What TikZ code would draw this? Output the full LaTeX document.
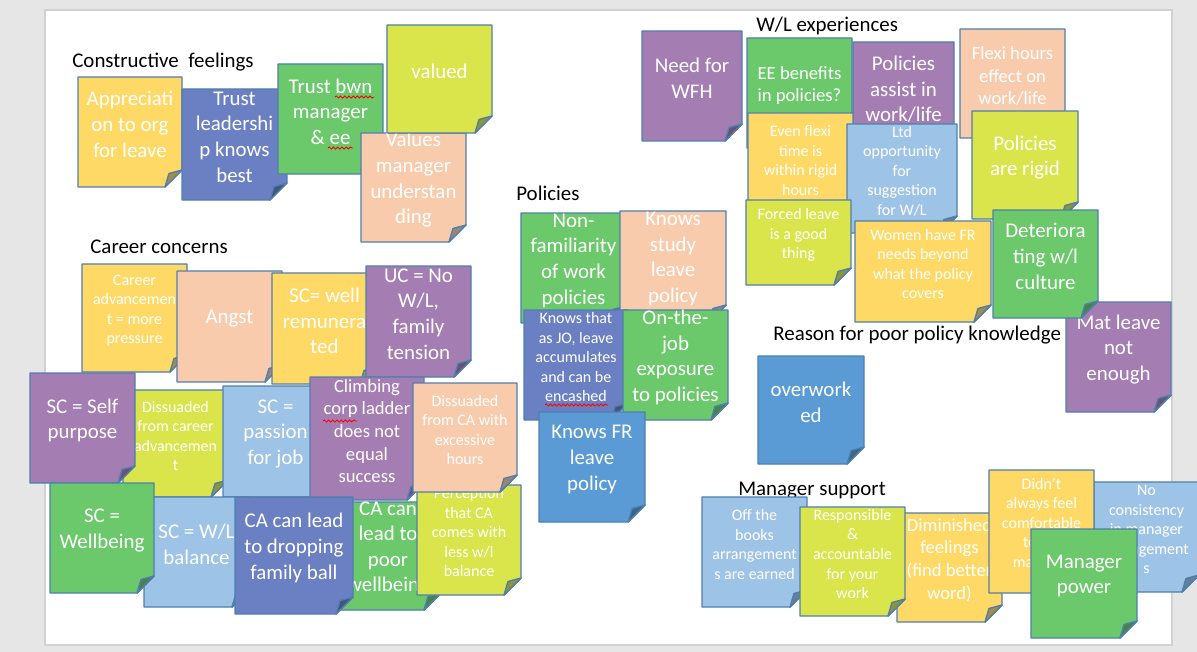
\documentclass[tikz,border=0pt]{standalone}
\usepackage{fontspec}
\setmainfont{Carlito}
\usetikzlibrary{decorations.pathmorphing}

\definecolor{pagegray}{HTML}{E6E6E6}
\definecolor{slideedge}{HTML}{D2D2D2}
\definecolor{noteline}{HTML}{4F7FAF}
\definecolor{noteyellow}{HTML}{FFD966}
\definecolor{notepeach}{HTML}{F8CBAD}
\definecolor{notelime}{HTML}{DAE54B}
\definecolor{notegreen}{HTML}{6BC96B}
\definecolor{notepurple}{HTML}{A47DB3}
\definecolor{noteslate}{HTML}{6B80C2}
\definecolor{notelight}{HTML}{9DC3E6}
\definecolor{notemid}{HTML}{5B9BD5}

\tikzset{
  notetext/.style={text=white, align=center, inner sep=0pt},
  bigtext/.style={font=\fontsize{11.9}{14.6}\selectfont},
  midtext/.style={font=\fontsize{10.6}{12.9}\selectfont},
  smalltext/.style={font=\fontsize{9.1}{11.1}\selectfont},
  heading/.style={anchor=base west, inner sep=0pt, font=\fontsize{11.9}{14.6}\selectfont},
  squiggle/.style={red, line width=0.5pt, decorate,
    decoration={snake, amplitude=0.6pt, segment length=2.4pt}}
}

% sticky note: name, x1, y1, x2, y2, colour, text size, text
\newcommand{\postit}[8]{%
  \filldraw[fill=#6, draw=noteline, line width=0.8pt, line join=round]
    (#2,#3) -- (#4,#3) -- (#4,#5-17) -- (#4-17,#5) -- (#2,#5) -- cycle;
  \filldraw[fill=#6!65!black, draw=noteline, line width=0.8pt, line join=round]
    (#4-17,#5) -- (#4-13,#5-13.5) -- (#4,#5-17) -- cycle;
  \node[notetext, #7] (#1) at ({(#2+#4)/2},{(#3+#5-17)/2+1}) {#8};
}

\begin{document}
\begin{tikzpicture}[x=0.02cm, y=-0.02cm]

   \useasboundingbox (0,0) rectangle (1197,652);
   \clip (0,0) rectangle (1197,652);
   \fill[pagegray] (0,0) rectangle (1197,652);
   \filldraw[fill=white, draw=slideedge, line width=1pt] (45,10) rectangle (1172,645);

   % headings
   \node[heading] (constructive) at (72,68) {Constructive\ \ feelings};
   \node[heading] (career) at (90,253) {Career concerns};
   \node[heading] (policies) at (516,200) {Policies};
   \node[heading] (wlexp) at (756,32) {W/L experiences};
   \node[heading] (reason) at (773,340) {Reason for poor policy knowledge};
   \node[heading] (mgrsupport) at (738,495) {Manager support};

   % constructive feelings
   \postit{appr}{78}{77}{182}{187}{noteyellow}{bigtext}{Appreciati\\on to org\\for leave}
   \postit{trustlead}{182}{89}{287}{200}{noteslate}{bigtext}{Trust\\leadershi\\p knows\\best}
   \postit{trustbwn}{278}{64}{383}{174}{notegreen}{bigtext}{Trust bwn\\manager\\\& ee}
   \draw[squiggle] (335,97) -- (374,97);
   \draw[squiggle] (328,148) -- (353,148);
   \postit{valuesmgr}{361}{133}{466}{242}{notepeach}{bigtext}{Values\\manager\\understan\\ding}
   \postit{valued}{387}{25}{492}{133}{notelime}{bigtext}{valued}

   % career concerns
   \postit{careeradv}{82}{264}{187}{372}{noteyellow}{smalltext}{Career\\advancemen\\t = more\\pressure}
   \postit{angst}{177}{271}{282}{382}{notepeach}{bigtext}{Angst}
   \postit{scwell}{272}{273}{377}{384}{noteyellow}{bigtext}{SC= well\\remunera\\ted}
   \postit{ucnowl}{366}{266}{471}{377}{notepurple}{bigtext}{UC = No\\W/L,\\family\\tension}
   \postit{dissadv}{123}{390}{228}{497}{notelime}{smalltext}{Dissuaded\\from career\\advancemen\\t}
   \postit{selfpurp}{30}{373}{135}{483}{notepurple}{bigtext}{SC = Self\\purpose}
   \postit{passion}{223}{386}{328}{497}{notelight}{bigtext}{SC =\\passion\\for job}
   \postit{climbing}{310}{377}{424}{500}{notepurple}{midtext}{Climbing\\corp ladder\\does not\\equal\\success}
   \draw[squiggle] (323,421) -- (357,421);
   \postit{wlbal}{144}{497}{249}{607}{notelight}{bigtext}{SC = W/L\\balance}
   \postit{wellbeing}{50}{483}{154}{593}{notegreen}{bigtext}{SC =\\Wellbeing}
   \postit{poorwell}{335}{502}{441}{610}{notegreen}{bigtext}{CA can\\lead to\\poor\\wellbeing}
   \postit{dropball}{235}{497}{353}{614}{noteslate}{bigtext}{CA can lead\\to dropping\\family ball}
   \postit{perception}{417}{485}{521}{595}{notelime}{smalltext}{Perception\\that CA\\comes with\\less w/l\\balance}
   \postit{dissca}{413}{383}{517}{492}{notepeach}{smalltext}{Dissuaded\\from CA with\\excessive\\hours}

   % policies
   \postit{nonfam}{521}{213}{626}{323}{notegreen}{bigtext}{Non-\\familiarity\\of work\\policies}
   \postit{knowsstudy}{620}{211}{726}{322}{notepeach}{bigtext}{Knows\\study\\leave\\policy}
   \postit{knowsjo}{524}{310}{628}{420}{noteslate}{smalltext}{Knows that\\as JO, leave\\accumulates\\and can be\\encashed}
   \draw[squiggle] (545,405) -- (608,405);
   \postit{onjob}{623}{310}{728}{420}{notegreen}{bigtext}{On-the-\\job\\exposure\\to policies}
   \postit{knowsfr}{539}{412}{645}{522}{notemid}{bigtext}{Knows FR\\leave\\policy}

   % reason for poor policy knowledge
   \postit{overworked}{758}{356}{864}{464}{notemid}{bigtext}{overwork\\ed}

   % W/L experiences
   \postit{wfh}{642}{31}{742}{141}{notepurple}{bigtext}{Need for\\WFH}
   \postit{eeben}{747}{38}{852}{148}{notegreen}{midtext}{EE benefits\\in policies?}
   \postit{polassist}{853}{42}{954}{152}{notepurple}{bigtext}{Policies\\assist in\\work/life}
   \postit{evenflexi}{748}{113}{853}{223}{noteyellow}{smalltext}{Even flexi\\time is\\within rigid\\hours}
   \postit{ltdopp}{847}{124}{957}{233}{notelight}{smalltext}{Ltd\\opportunity\\for\\suggestion\\for W/L}
   \postit{forced}{746}{200}{851}{285}{notelime}{smalltext}{Forced leave\\is a good\\thing}
   \postit{flexihrs}{960}{29}{1065}{138}{notepeach}{midtext}{Flexi hours\\effect on\\work/life}
   \postit{women}{855}{221}{991}{322}{noteyellow}{smalltext}{Women have FR\\needs beyond\\what the policy\\covers}
   \postit{rigid}{972}{111}{1078}{219}{notelime}{bigtext}{Policies\\are rigid}
   \postit{matleave}{1066}{302}{1171}{412}{notepurple}{bigtext}{Mat leave\\not\\enough}
   \postit{deterior}{993}{210}{1098}{318}{notegreen}{bigtext}{Deteriora\\ting w/l\\culture}

   % manager support
   \postit{offbooks}{702}{497}{807}{607}{notelight}{smalltext}{Off the\\books\\arrangement\\s are earned}
   \postit{diminished}{897}{513}{1002}{622}{noteyellow}{midtext}{Diminished\\feelings\\(find better\\word)}
   \postit{responsible}{800}{507}{905}{616}{notelime}{smalltext}{Responsible\\\&\\accountable\\for your\\work}
   \postit{noconsist}{1094}{482}{1199}{592}{notelight}{smalltext}{No\\consistency\\in manager\\arrangement\\s}
   \postit{didnt}{989}{470}{1094}{593}{noteyellow}{smalltext}{Didn’t\\always feel\\comfortable\\to my\\manager}
   \postit{mgrpower}{1031}{529}{1137}{638}{notegreen}{bigtext}{Manager\\power}

\end{tikzpicture}
\end{document}
